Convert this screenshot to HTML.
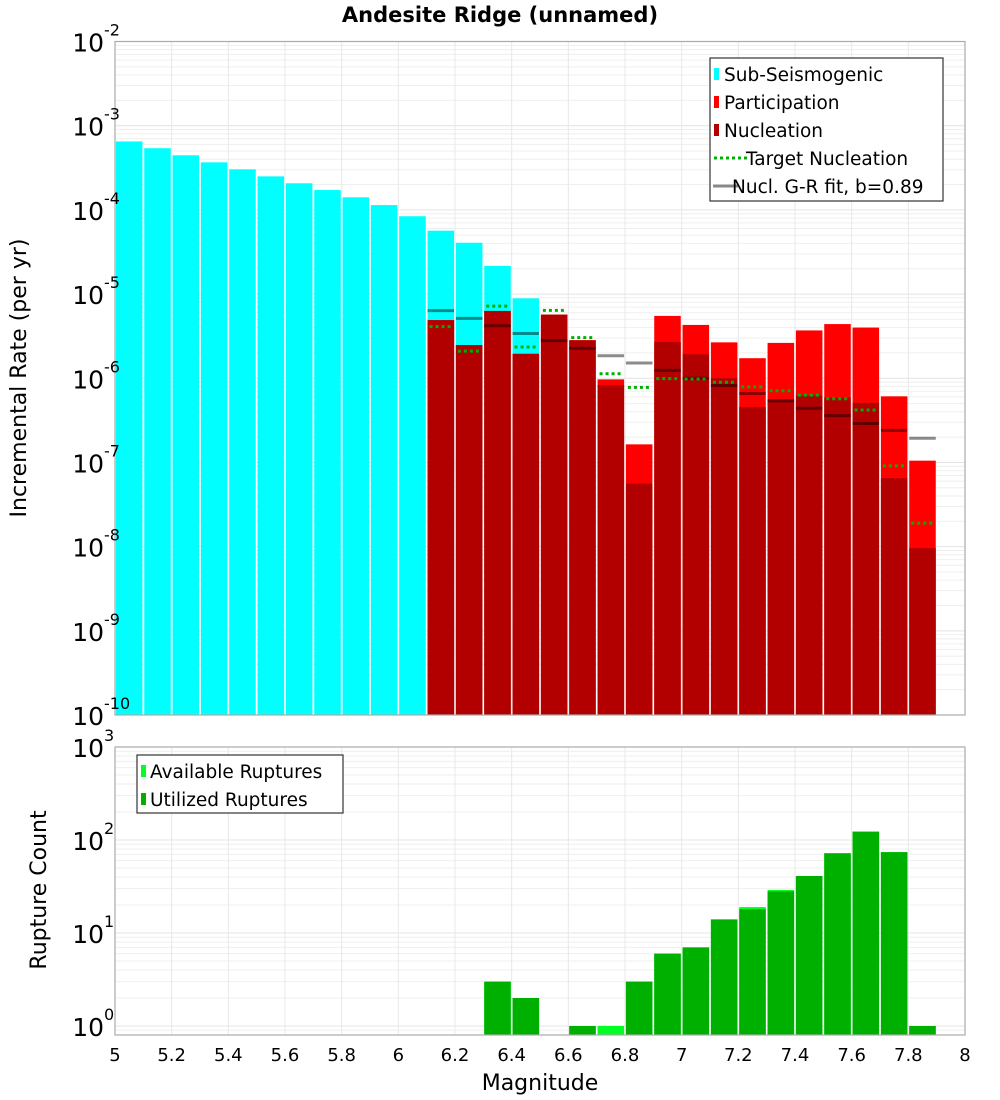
<!DOCTYPE html>
<html><head><meta charset="utf-8"><style>
body{margin:0;background:#fff;}
svg{display:block;font-family:"DejaVu Sans","Liberation Sans",sans-serif;}
</style></head><body>
<svg id="chart" width="1000" height="1100" xmlns="http://www.w3.org/2000/svg">
<text x="500" y="22" text-anchor="middle" font-size="21" font-weight="bold">Andesite Ridge (unnamed)</text>
<g id="topplot"></g>
<g id="botplot"></g>
<text transform="translate(26,378) rotate(-90)" text-anchor="middle" font-size="22">Incremental Rate (per yr)</text>
<text transform="translate(46,890) rotate(-90)" text-anchor="middle" font-size="22">Rupture Count</text>
<text x="540" y="1090" text-anchor="middle" font-size="22">Magnitude</text>
</svg>
<script>
const subMags=[5.05,5.15,5.25,5.35,5.45,5.55,5.65,5.75,5.85,5.95,6.05,6.15,6.25,6.35,6.45];
const subVals=[6.5e-4,5.4e-4,4.45e-4,3.67e-4,3.03e-4,2.5e-4,2.07e-4,1.72e-4,1.41e-4,1.14e-4,8.4e-5,5.66e-5,4.07e-5,2.16e-5,8.9e-6];
const supMags=[6.15,6.25,6.35,6.45,6.55,6.65,6.75,6.85,6.95,7.05,7.15,7.25,7.35,7.45,7.55,7.65,7.75,7.85];
const partVals=[4.9e-6,2.48e-6,6.3e-6,1.95e-6,5.7e-6,2.83e-6,9.7e-7,1.64e-7,5.5e-6,4.3e-6,2.67e-6,1.73e-6,2.63e-6,3.7e-6,4.4e-6,4.0e-6,6.1e-7,1.05e-7];
const nuclVals=[4.9e-6,2.48e-6,6.3e-6,1.95e-6,5.7e-6,2.83e-6,8.3e-7,5.6e-8,2.7e-6,1.93e-6,1.0e-6,4.56e-7,5.6e-7,6.2e-7,5.9e-7,5.1e-7,6.5e-8,9.6e-9];
const targetVals=[4.1e-6,2.1e-6,7.2e-6,2.35e-6,6.4e-6,3.04e-6,1.13e-6,7.8e-7,9.9e-7,9.8e-7,8.95e-7,7.9e-7,7.1e-7,6.3e-7,5.7e-7,4.2e-7,9.1e-8,1.9e-8];
const grVals=[6.35e-6,5.15e-6,4.2e-6,3.4e-6,2.8e-6,2.27e-6,1.85e-6,1.52e-6,1.24e-6,1.0e-6,8.2e-7,6.6e-7,5.4e-7,4.4e-7,3.6e-7,2.9e-7,2.4e-7,1.94e-7];
const cntMags=[6.35,6.45,6.65,6.75,6.85,6.95,7.05,7.15,7.25,7.35,7.45,7.55,7.65,7.75,7.85];
const availVals=[3,2,1,1,3,6,7,14,19,29,41,72,123,74,1];
const utilVals=[3,2,1,0,3,6,7,14,18,28,41,72,123,74,1];
const xTicks=[5,5.2,5.4,5.6,5.8,6,6.2,6.4,6.6,6.8,7,7.2,7.4,7.6,7.8,8];
const topExps=[-2,-3,-4,-5,-6,-7,-8,-9,-10];
const botExps=[0,1,2,3];

const NS="http://www.w3.org/2000/svg";
function el(parent,tag,attrs,txt){const e=document.createElementNS(NS,tag);for(const k in attrs)e.setAttribute(k,attrs[k]);if(txt!==undefined)e.textContent=txt;parent.appendChild(e);return e;}
const X0=115,X1=965;
function xs(m){return X0+(m-5)/3*(X1-X0);}
const T0=41.5,T1=715;
function yt(v){return T0+(-2-Math.log10(v))/8*(T1-T0);}
const B0=747,B1=1035,BD=93,B1e0=1026;
function yb(v){return B1e0-Math.log10(v)*BD;}
const BW=(xs(5.1)-xs(5))-1.8;

const topG=document.getElementById('topplot'),botG=document.getElementById('botplot');

function grid(g,y0,y1,yfn,expMin,expMax){
  for(let e=expMin;e<expMax;e++){for(let k=1;k<10;k++){const y=yfn(k*Math.pow(10,e));if(y<y0||y>y1)continue;
    const l=el(g,'line',{x1:X0,x2:X1,y1:y,y2:y,stroke:k==1?'#e4e4e4':'#efefef','stroke-width':1});
    
    }}
  xTicks.forEach(t=>{const l=el(g,'line',{x1:xs(t),x2:xs(t),y1:y0,y2:y1,stroke:'#e8e8e8','stroke-width':1});
    
    });
}
grid(topG,T0,T1,yt,-10,-2);
grid(botG,B0,B1,yb,-1,3);

subMags.forEach((m,i)=>{const y=yt(subVals[i]);const r=el(topG,'rect',{x:xs(m)-BW/2,y:y,width:BW,height:T1-y,fill:'#00ffff'});
  
  });
supMags.forEach((m,i)=>{const y=yt(partVals[i]);const r=el(topG,'rect',{x:xs(m)-BW/2,y:y,width:BW,height:T1-y,fill:'#ff0000'});
  
  });
supMags.forEach((m,i)=>{const y=yt(nuclVals[i]);const r=el(topG,'rect',{x:xs(m)-BW/2,y:y,width:BW,height:T1-y,fill:'#b20000'});
  
  });
supMags.forEach((m,i)=>{const y=yt(grVals[i]);const l=el(topG,'line',{x1:xs(m)-BW/2,x2:xs(m)+BW/2,y1:y,y2:y,stroke:'rgba(0,0,0,0.45)','stroke-width':3});
  
  });
supMags.forEach((m,i)=>{const y=yt(targetVals[i]);const l=el(topG,'line',{x1:xs(m)-BW/2+2,x2:xs(m)+BW/2-2,y1:y,y2:y,stroke:'#00b000','stroke-width':3,'stroke-dasharray':'3,3'});
  
  });
let fr=el(topG,'rect',{x:X0,y:T0,width:X1-X0,height:T1-T0,fill:'none',stroke:'#aaaaaa','stroke-width':1.2});



cntMags.forEach((m,i)=>{if(availVals[i]<=0)return;const y=yb(availVals[i]);const r=el(botG,'rect',{x:xs(m)-BW/2,y:y,width:BW,height:B1-y,fill:'#00ff22'});
  
  });
cntMags.forEach((m,i)=>{if(utilVals[i]<=0)return;const y=yb(utilVals[i]);const r=el(botG,'rect',{x:xs(m)-BW/2,y:y,width:BW,height:B1-y,fill:'#00b000'});
  
  });
fr=el(botG,'rect',{x:X0,y:B0,width:X1-X0,height:B1-B0,fill:'none',stroke:'#aaaaaa','stroke-width':1.2});



function ylab(g,y,e){const t=el(g,'text',{x:104,y:y+10,'text-anchor':'end','font-size':25},'10');
  
  
  const s=el(g,'text',{x:104,y:y-6,'font-size':16},String(e));
  
  }
topExps.forEach(e=>ylab(topG,yt(Math.pow(10,e)),e));
botExps.forEach(e=>ylab(botG,yb(Math.pow(10,e)),e));
xTicks.forEach(t=>{const s=el(botG,'text',{x:xs(t),y:1061,'text-anchor':'middle','font-size':18},String(t));
  
  });

function legend(g,x,y,w,h,items){const b=el(g,'rect',{x:x,y:y,width:w,height:h,fill:'#fff',stroke:'#333','stroke-width':1.2});
  
  
  items.forEach((it,i)=>{const cy=y+16+i*28;let sw;
    if(it.t=='rect'){sw=el(g,'rect',{x:x+4,y:cy-6,width:5,height:12,fill:it.c});}
    else if(it.t=='dot'){sw=el(g,'line',{x1:x+4,x2:x+40,y1:cy,y2:cy,stroke:it.c,'stroke-width':3,'stroke-dasharray':'3,3'});}
    else{sw=el(g,'line',{x1:x+3,x2:x+28,y1:cy,y2:cy,stroke:it.c,'stroke-width':3});}
    
    
    const tx=el(g,'text',{x:x+it.o,y:cy+7,'font-size':18.5},it.l);
    
    });}
legend(topG,710,58,233,143,[{t:'rect',c:'#00ffff',l:'Sub-Seismogenic',o:14},{t:'rect',c:'#ff0000',l:'Participation',o:14},{t:'rect',c:'#b20000',l:'Nucleation',o:14},{t:'dot',c:'#00b000',l:'Target Nucleation',o:36},{t:'line',c:'#888',l:'Nucl. G-R fit, b=0.89',o:22}]);
legend(botG,137,755,206,58,[{t:'rect',c:'#00ff22',l:'Available Ruptures',o:13},{t:'rect',c:'#00b000',l:'Utilized Ruptures',o:13}]);
</script>
</body></html>
